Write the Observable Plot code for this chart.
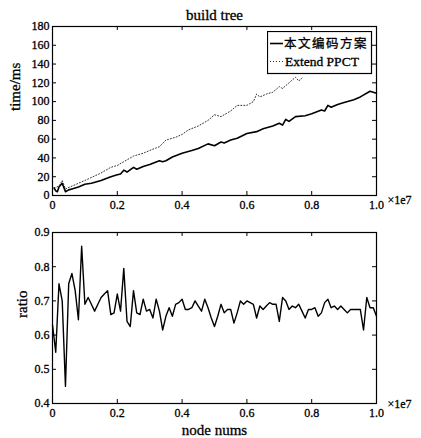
<!DOCTYPE html>
<html>
<head>
<meta charset="utf-8">
<script src="https://cdn.jsdelivr.net/npm/d3@7"></script>
<script src="https://cdn.jsdelivr.net/npm/@observablehq/plot@0.6"></script>
<style>
  html, body { margin: 0; padding: 0; background: #fff; }
  #wrap { position: relative; width: 421px; height: 438px; overflow: hidden; background: #fff; }
  #top, #bottom { position: absolute; left: 0; }
  #top { top: 0; }
  #bottom { top: 215px; }
  #legend { position: absolute; left: 267px; top: 31px; }
  svg { font-family: "Liberation Serif", "DejaVu Serif", serif; }
  svg text { stroke: #000; stroke-width: 0.3px; }
</style>
</head>
<body>
<div id="wrap">
  <div id="top"></div>
  <div id="bottom"></div>
  <div id="legend"></div>
</div>
<script>
// ---- data (x in units of 1e7 nodes) ----
const xTicks = [0, 0.2, 0.4, 0.6, 0.8, 1.0];
const xTickLabels = ["0", "0.2", "0.4", "0.6", "0.8", "1.0"];
const timeTicks = [0, 20, 40, 60, 80, 100, 120, 140, 160, 180];
const ratioTicks = [0.4, 0.5, 0.6, 0.7, 0.8, 0.9];
const ratioTickLabels = ["0.4", "0.5", "0.6", "0.7", "0.8", "0.9"];

const seriesNames = ["本文编码方案", "Extend PPCT"];

const solidX = [0.005,0.01,0.015,0.02,0.03,0.04,0.05,0.06,0.08,0.10,0.12,0.15,0.18,0.20,0.21,0.22,0.23,0.25,0.26,0.28,0.30,0.33,0.34,0.35,0.37,0.40,0.43,0.45,0.48,0.50,0.52,0.53,0.55,0.57,0.60,0.63,0.65,0.68,0.70,0.71,0.72,0.73,0.75,0.78,0.80,0.83,0.84,0.85,0.86,0.88,0.90,0.93,0.95,0.98,0.99,1.0];
const solidY = [8,5,4,9,13,4,6,7,9,12,13,16,20,22,23,27,25,30,28,31,33,37,36,37,41,45,48,50,55,53,57,56,59,61,66,68,71,74,77,75,81,79,84,85,87,91,90,96,94,97,99,102,105,111,110,109];

const dottedX = [0.005,0.02,0.03,0.04,0.06,0.10,0.15,0.18,0.20,0.22,0.25,0.28,0.30,0.33,0.35,0.38,0.40,0.42,0.45,0.48,0.50,0.52,0.55,0.57,0.60,0.62,0.63,0.64,0.66,0.68,0.70,0.71,0.73,0.75,0.76,0.77];
const dottedY = [8,10,16,7,10,16,24,30,32,36,42,45,48,52,59,62,65,70,74,80,86,84,90,96,96,100,108,105,108,110,116,114,120,126,122,125];

const ratioX = [0,0.01,0.02,0.03,0.04,0.05,0.06,0.07,0.08,0.09,
  0.10,0.11,0.12,0.13,0.14,0.15,0.16,0.17,0.18,0.19,
  0.20,0.21,0.22,0.23,0.24,0.25,0.26,0.27,0.28,0.29,
  0.30,0.31,0.32,0.33,0.34,0.35,0.36,0.37,0.38,0.39,
  0.40,0.41,0.42,0.43,0.44,0.45,0.46,0.47,0.48,0.49,
  0.50,0.51,0.52,0.53,0.54,0.55,0.56,0.57,0.58,0.59,
  0.60,0.61,0.62,0.63,0.64,0.65,0.66,0.67,0.68,0.69,
  0.70,0.71,0.72,0.73,0.74,0.75,0.76,0.77,0.78,0.79,
  0.80,0.81,0.82,0.83,0.84,0.85,0.86,0.87,0.88,0.89,
  0.90,0.91,0.92,0.93,0.94,0.95,0.96,0.97,0.98,0.99,1.00];
const ratioY = [0.63,0.55,0.75,0.70,0.45,0.75,0.78,0.73,0.645,0.86,
  0.69,0.71,0.69,0.67,0.69,0.71,0.72,0.73,0.66,0.665,
  0.72,0.67,0.795,0.64,0.625,0.73,0.665,0.66,0.705,0.67,
  0.675,0.65,0.705,0.67,0.615,0.655,0.68,0.655,0.69,0.695,
  0.705,0.675,0.675,0.68,0.70,0.685,0.67,0.705,0.68,0.65,
  0.625,0.655,0.69,0.665,0.675,0.675,0.635,0.665,0.70,0.69,
  0.70,0.695,0.69,0.65,0.685,0.675,0.685,0.695,0.69,0.69,
  0.64,0.71,0.70,0.675,0.685,0.68,0.69,0.67,0.65,0.675,
  0.675,0.68,0.655,0.665,0.695,0.705,0.68,0.685,0.675,0.685,
  0.675,0.665,0.675,0.675,0.675,0.675,0.615,0.71,0.68,0.68,
  0.655];

const solid = solidX.map((x, i) => ({x, y: solidY[i]}));
const dotted = dottedX.map((x, i) => ({x, y: dottedY[i]}));
const ratio = ratioX.map((x, i) => ({x, y: ratioY[i]}));

const W = 421;
const fontStyle = {fontFamily: "'Liberation Serif', 'DejaVu Serif', serif", fontSize: "12px", color: "#000", background: "transparent", overflow: "visible"};

function inwardTicks(xt, yt, pw, ph, len) {
  return [
    Plot.ruleX(xt, {insetTop: ph - len, stroke: "#000"}),
    Plot.ruleX(xt, {insetBottom: ph - len, stroke: "#000"}),
    Plot.ruleY(yt, {insetRight: pw - len, stroke: "#000"}),
    Plot.ruleY(yt, {insetLeft: pw - len, stroke: "#000"})
  ];
}

// ---- top chart ----
{
  const H = 215, mL = 52, mR = 45, mT = 26, mB = 20;
  const pw = W - mL - mR, ph = H - mT - mB;
  const chart = Plot.plot({
    width: W, height: H,
    marginLeft: mL, marginRight: mR, marginTop: mT, marginBottom: mB,
    style: fontStyle,
    x: {domain: [0, 1]},
    y: {domain: [0, 180]},
    marks: [
      Plot.line(dotted, {x: "x", y: "y", stroke: "#333", strokeWidth: 1, strokeDasharray: "1,2"}),
      Plot.line(solid, {x: "x", y: "y", stroke: "#000", strokeWidth: 1.6}),
      ...inwardTicks(xTicks, timeTicks, pw, ph, 4),
      Plot.frame({stroke: "#000", strokeWidth: 1.2}),
      Plot.axisX({ticks: xTicks, tickFormat: d => xTickLabels[xTicks.indexOf(d)], tickSize: 0, tickPadding: 5, label: null, fontSize: 12}),
      Plot.axisY({ticks: timeTicks, tickSize: 0, tickPadding: 3, label: null, fontSize: 12}),
      Plot.text(["time/ms"], {frameAnchor: "left", dx: -37, rotate: -90, fontSize: 15, lineAnchor: "middle"}),
      Plot.text(["build tree"], {frameAnchor: "top", dy: -11, fontSize: 15, lineAnchor: "middle"}),
      Plot.text(["×1e7"], {frameAnchor: "bottom-right", dx: 11, dy: 5, textAnchor: "start", lineAnchor: "middle", fontSize: 12})
    ]
  });
  document.getElementById("top").appendChild(chart);
}

// ---- bottom chart ----
{
  const H = 223, mL = 52, mR = 45, mT = 17, mB = 35;
  const pw = W - mL - mR, ph = H - mT - mB;
  const chart = Plot.plot({
    width: W, height: H,
    marginLeft: mL, marginRight: mR, marginTop: mT, marginBottom: mB,
    style: fontStyle,
    x: {domain: [0, 1]},
    y: {domain: [0.4, 0.9]},
    marks: [
      Plot.line(ratio, {x: "x", y: "y", stroke: "#000", strokeWidth: 1.4}),
      ...inwardTicks(xTicks, ratioTicks, pw, ph, 4),
      Plot.frame({stroke: "#000", strokeWidth: 1.2}),
      Plot.axisX({ticks: xTicks, tickFormat: d => xTickLabels[xTicks.indexOf(d)], tickSize: 0, tickPadding: 5, label: null, fontSize: 12}),
      Plot.axisY({ticks: ratioTicks, tickFormat: d => ratioTickLabels[ratioTicks.indexOf(d)], tickSize: 0, tickPadding: 3, label: null, fontSize: 12}),
      Plot.text(["ratio"], {frameAnchor: "left", dx: -30, rotate: -90, fontSize: 15, lineAnchor: "middle"}),
      Plot.text(["node nums"], {frameAnchor: "bottom", dy: 27, fontSize: 15, lineAnchor: "middle"}),
      Plot.text(["×1e7"], {frameAnchor: "bottom-right", dx: 11, dy: 1, textAnchor: "start", lineAnchor: "middle", fontSize: 12})
    ]
  });
  document.getElementById("bottom").appendChild(chart);
}

// ---- legend ----
{
  const ns = "http://www.w3.org/2000/svg";
  const svg = document.createElementNS(ns, "svg");
  svg.setAttribute("width", 106);
  svg.setAttribute("height", 44);
  svg.innerHTML = `
    <rect x="0.5" y="0.5" width="104" height="42" fill="#fff" stroke="#000" stroke-width="1.2"/>
    <line x1="3" x2="16" y1="12.5" y2="12.5" stroke="#000" stroke-width="1.6"/>
    <text x="17" y="12.5" dy="0.35em" font-family="'Noto Sans CJK SC', sans-serif" font-size="12.5" letter-spacing="1.5">${seriesNames[0]}</text>
    <line x1="3" x2="16" y1="30.5" y2="30.5" stroke="#333" stroke-width="1" stroke-dasharray="1,2"/>
    <text x="18" y="30.5" dy="0.35em" font-family="'Liberation Serif', serif" font-size="13.5">${seriesNames[1]}</text>`;
  document.getElementById("legend").appendChild(svg);
}
</script>
</body>
</html>
